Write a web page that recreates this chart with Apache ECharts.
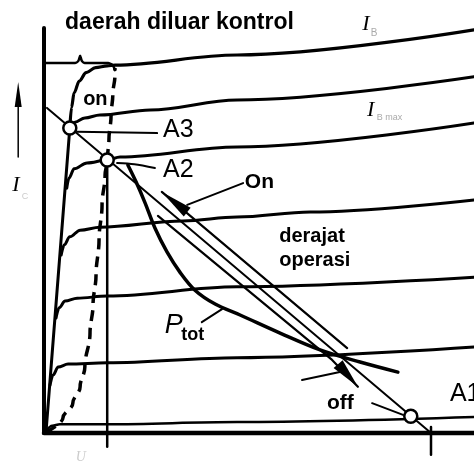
<!DOCTYPE html>
<html>
<head>
<meta charset="utf-8">
<script src="https://cdn.jsdelivr.net/npm/echarts/dist/echarts.min.js"></script>
<style>
  html, body { margin: 0; padding: 0; background: #fff; }
  #chart { width: 474px; height: 468px; }
</style>
</head>
<body>
<div id="chart"></div>
<script>
// Output characteristics of a switching transistor (arbitrary units):
// x = collector-emitter voltage, y = collector current.

// Base-current curves, from the highest (IB6) to the lowest (IB0)
const curveIB6 = [[0.60,7.26],[0.64,7.75],[0.70,8.10],[0.82,8.38],[0.98,8.58],[1.20,8.70],[1.47,8.74],[1.65,8.76],[4.49,9.00],[10,9.60]];
const curveIB5 = [[0.60,7.26],[0.72,7.40],[0.95,7.50],[1.30,7.57],[2.47,7.69],[4.49,7.93],[10,8.48]];
const curveIB4 = [[0.53,5.83],[0.58,6.07],[0.70,6.29],[1.00,6.43],[1.47,6.50],[1.77,6.57],[4.49,6.81],[10,7.38]];
const curveIB3 = [[0.40,4.24],[0.47,4.48],[0.60,4.67],[0.84,4.83],[1.30,4.90],[3.23,5.05],[4.49,5.14],[6.19,5.26],[10,5.55]];
const curveIB2 = [[0.28,2.74],[0.35,2.98],[0.49,3.14],[0.77,3.21],[1.47,3.26],[4.49,3.48],[10,3.71]];
const curveIB1 = [[0.14,1.14],[0.21,1.38],[0.33,1.57],[0.56,1.64],[1.47,1.67],[4.49,1.79],[10,2.05]];
const curveIB0 = [[0.05,0.05],[0.19,0.17],[0.37,0.21],[1.47,0.21],[4.49,0.26],[10,0.38]];

// Saturation edge and the dashed boundary of the uncontrolled region
const saturationLine = [[0.05,0.07],[0.60,7.26]];
const saturationBoundary = [[0.05,0.02],[0.44,0.36],[0.67,0.71],[0.84,1.10],[0.95,1.57],[1.07,2.38],[1.14,3.05],[1.21,3.76],[1.28,4.60],[1.35,5.43],[1.42,6.14],[1.47,6.50],[1.51,6.98],[1.56,7.57],[1.60,8.05],[1.65,8.52],[1.65,8.69]];
const regionBrace = [[0.05,8.81],[0.72,8.81],[0.80,8.86],[0.84,8.98],[0.88,8.86],[0.95,8.81],[1.49,8.81],[1.60,8.76],[1.65,8.64]];

// Load line and the switching band around it
const loadLine = [[0.07,7.74],[8.98,0.02]];
const bandUpper = [[2.74,5.74],[7.05,2.02]];
const bandLower = [[2.65,5.17],[6.70,1.74],[7.30,1.10]];

// Maximum power dissipation hyperbola P_tot
const powerHyperbola = [[1.95,6.38],[2.14,5.98],[2.35,5.48],[2.58,4.88],[2.86,4.31],[3.16,3.83],[3.51,3.40],[3.98,3.07],[4.56,2.81],[5.49,2.38],[6.42,1.98],[7.35,1.69],[8.23,1.45]];

// Operating points
const pointNames = ['A1','A2','A3'];
const pointValues = [[8.53,0.40],[1.47,6.50],[0.60,7.26]];

// Axis frame
const axisY = [[0,9.64],[0,0]];
const axisX = [[0,0],[10,0]];

// Arrowheads: tip x, tip y, base x, base y
const arrowHeads = [
  [-0.60,8.36,-0.60,7.76],   // current-axis arrow
  [2.74,5.74,3.33,5.26],     // "On"
  [7.30,1.10,6.84,1.64]      // "off"
];
const arrowWidths = [7, 11, 12];

function line(data, width, extra) {
  return Object.assign({
    type: 'line', data: data, symbol: 'none', showSymbol: false, silent: true,
    lineStyle: { color: '#000', width: width, cap: 'round', join: 'round' },
    z: 3, clip: false
  }, extra || {});
}

const sansBold = { fontFamily: 'Liberation Sans, Arial, sans-serif', fontWeight: 'bold', color: '#000' };
const sansReg = { fontFamily: 'Liberation Sans, Arial, sans-serif', fontWeight: 'normal', color: '#000' };
const serifIt = { fontFamily: 'Liberation Serif, Times New Roman, serif', fontStyle: 'italic', color: '#000' };

function note(text, at, style, size) {
  return {
    value: at,
    label: Object.assign({ show: true, formatter: text, position: 'inside', align: 'left',
      verticalAlign: 'middle', fontSize: size, opacity: 1, textBorderWidth: 0 }, style)
  };
}

const notes = [
  note('daerah diluar kontrol', [0.49,9.78], sansBold, 23),
  note('on', [0.91,7.93], sansBold, 20),
  note(pointNames[2], [2.77,7.21], sansReg, 25),
  note(pointNames[1], [2.77,6.27], sansReg, 25),
  note('On', [4.67,5.98], sansBold, 21),
  note('derajat', [5.47,4.69], sansBold, 20),
  note('operasi', [5.47,4.10], sansBold, 20),
  note('P', [2.81,2.55], Object.assign({}, sansReg, { fontStyle: 'italic' }), 27),
  note('tot', [3.19,2.34], sansBold, 18),
  note('off', [6.58,0.70], sansBold, 21),
  note(pointNames[0], [9.44,0.92], sansReg, 25),
  note('I', [7.40,9.73], serifIt, 22),
  note('B', [7.60,9.52], Object.assign({}, sansReg, { color: '#aaa' }), 10),
  note('I', [7.51,7.68], serifIt, 22),
  note('B max', [7.74,7.52], Object.assign({}, sansReg, { color: '#aaa' }), 9),
  note('I', [-0.74,5.90], serifIt, 22),
  note('C', [-0.52,5.62], Object.assign({}, sansReg, { color: '#ccc' }), 9),
  note('U', [0.74,-0.57], Object.assign({}, serifIt, { color: '#ccc' }), 14)
];

const chart = echarts.init(document.getElementById('chart'), null, { renderer: 'canvas' });
chart.setOption({
  animation: false,
  backgroundColor: '#fff',
  grid: { left: 1, top: 13, width: 473, height: 453.6 },
  xAxis: { type: 'value', min: -1, max: 10, show: false },
  yAxis: { type: 'value', min: -0.8, max: 10, show: false },
  series: [
    line(axisY, 4),
    line(axisX, 4.5),
    line(curveIB6, 3.2, { smooth: 0.35, smoothMonotone: 'x' }),
    line(curveIB5, 3, { smooth: 0.35, smoothMonotone: 'x' }),
    line(curveIB4, 3, { smooth: 0.35, smoothMonotone: 'x' }),
    line(curveIB3, 3, { smooth: 0.35, smoothMonotone: 'x' }),
    line(curveIB2, 3, { smooth: 0.35, smoothMonotone: 'x' }),
    line(curveIB1, 3, { smooth: 0.35, smoothMonotone: 'x' }),
    line(curveIB0, 2.5, { smooth: 0.35, smoothMonotone: 'x' }),
    line(saturationLine, 3),
    line(saturationBoundary, 3.5, { smooth: 0.4, smoothMonotone: 'y',
      lineStyle: { color: '#000', width: 3.5, type: [11, 7], cap: 'butt' } }),
    line(regionBrace, 2.5, { smooth: 0.2 }),
    line([[1.47,6.50],[1.47,-0.33]], 2.5),
    line([[9.0,0.14],[9.0,-0.52]], 2.5),
    line(loadLine, 2),
    line(bandUpper, 2.2),
    line(bandLower, 2.2),
    line(powerHyperbola, 3.5, { smooth: 0.35 }),
    // leader lines
    line([[0.77,7.17],[2.63,7.14]], 2),
    line([[1.70,6.43],[2.10,6.40],[2.58,6.31]], 2, { smooth: 0.3 }),
    line([[3.33,5.43],[4.63,5.95]], 2),
    line([[3.67,2.64],[4.14,2.95]], 2),
    line([[6.00,1.26],[6.88,1.45]], 2),
    line([[7.63,0.71],[8.35,0.43]], 2),
    line([[-0.60,7.76],[-0.60,6.57]], 1.5),
    {
      type: 'custom', silent: true, z: 5, clip: false,
      data: arrowHeads,
      renderItem: function (params, api) {
        const tip = api.coord([api.value(0), api.value(1)]);
        const base = api.coord([api.value(2), api.value(3)]);
        const w = arrowWidths[params.dataIndex];
        const dx = tip[0] - base[0], dy = tip[1] - base[1];
        const len = Math.hypot(dx, dy);
        const nx = -dy / len * w / 2, ny = dx / len * w / 2;
        return {
          type: 'polygon',
          shape: { points: [tip, [base[0] + nx, base[1] + ny], [base[0] - nx, base[1] - ny]] },
          style: { fill: '#000' }
        };
      }
    },
    {
      type: 'scatter', silent: true, z: 10,
      data: pointValues,
      symbol: 'circle', symbolSize: 13,
      itemStyle: { color: '#fff', borderColor: '#000', borderWidth: 2.5, opacity: 1 }
    },
    {
      type: 'scatter', silent: true, z: 12,
      data: notes,
      symbolSize: 0.1,
      itemStyle: { color: 'rgba(0,0,0,0)', opacity: 1 }
    }
  ]
});
</script>
</body>
</html>
